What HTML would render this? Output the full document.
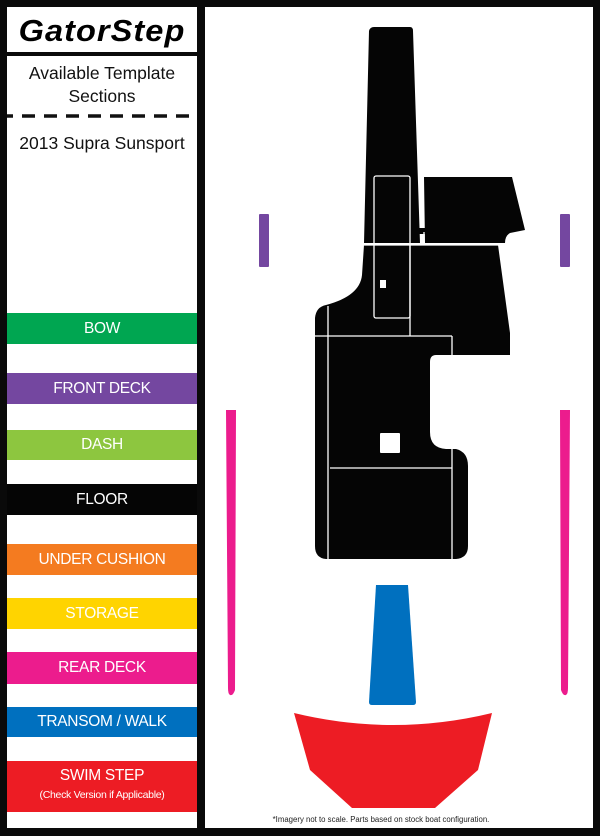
<!DOCTYPE html>
<html><head><style>
*{margin:0;padding:0}
body{width:600px;height:836px;background:#0a0a0a;position:relative;overflow:hidden;font-family:"Liberation Sans",sans-serif}
.p{position:absolute;background:#fff}
.band{position:absolute;left:7px;width:190px;color:#fff;text-align:center;font-size:15.5px;letter-spacing:-0.3px}
.t{position:absolute;left:7px;width:190px;text-align:center;color:#1a1a1a}
</style></head><body>
<div class="p" style="left:7px;top:7px;width:190px;height:45px"></div>
<div class="p" style="left:7px;top:56px;width:190px;height:772px"></div>
<div class="p" style="left:205px;top:7px;width:388px;height:821px"></div>
<div class="t" style="top:13px;font-size:31px;font-weight:bold;font-style:italic;letter-spacing:1px;color:#000;transform:scaleX(1.05)">GatorStep</div>
<div class="t" style="top:62px;font-size:17.5px;line-height:23px;color:#111">Available Template<br>Sections</div>
<svg style="position:absolute;left:7px;top:114px" width="190" height="5"><line x1="0" y1="2" x2="190" y2="2" stroke="#111" stroke-width="3.5" stroke-dasharray="6,9,13,9,13,9,13,9,13,9,13,9,13,9,13,9,13,9"/></svg>
<div class="t" style="top:133px;font-size:17.5px;color:#111">2013 Supra Sunsport</div>

<div class="band" style="top:313px;height:31px;line-height:31px;background:#00a651">BOW</div>
<div class="band" style="top:373px;height:31px;line-height:31px;background:#7447a0">FRONT DECK</div>
<div class="band" style="top:430px;height:30px;line-height:30px;background:#8dc63f">DASH</div>
<div class="band" style="top:484px;height:31px;line-height:31px;background:#050505">FLOOR</div>
<div class="band" style="top:544px;height:31px;line-height:31px;background:#f47b20">UNDER CUSHION</div>
<div class="band" style="top:598px;height:31px;line-height:31px;background:#ffd400">STORAGE</div>
<div class="band" style="top:652px;height:32px;line-height:32px;background:#ec1c8d">REAR DECK</div>
<div class="band" style="top:707px;height:30px;line-height:30px;background:#0070bf">TRANSOM / WALK</div>
<div class="band" style="top:761px;height:51px;background:#ed1c24"><div style="margin-top:6px;font-size:15.5px">SWIM STEP</div><div style="font-size:10.5px;margin-top:4px">(Check Version if Applicable)</div></div>

<svg style="position:absolute;left:0;top:0" width="600" height="836">
<path d="M374 27 H410 Q413 27 413 31 L420 243 H364 L369 31 Q370 27 374 27Z" fill="#050505"/>
<path d="M424 177 H512 L525 230 L510 233 Q505 236 505 243 H425 Z" fill="#050505"/>
<path d="M419 228 H432 V234 H419Z" fill="#050505"/>
<path d="M364 245 H498 L510 333 V355 H436 Q430 355 430 362 V432 Q430 448 446 449 H456 Q468 452 468 466 V546 Q468 558 456 559 H326 Q315 558 315 546 V318 Q316 307 326 305 Q360 296 362 275 Z" fill="#050505"/>
<g stroke="#fff" stroke-width="1.3" fill="none">
<line x1="364" y1="245" x2="500" y2="245"/>
<rect x="374" y="176" width="36" height="142" rx="2"/>
<line x1="410" y1="245" x2="410" y2="336"/>
<line x1="424" y1="232" x2="424" y2="245"/>
<line x1="315" y1="336" x2="452" y2="336"/>
<line x1="328" y1="306" x2="328" y2="560"/>
<line x1="452" y1="336" x2="452" y2="355"/>
<line x1="452" y1="449" x2="452" y2="560"/>
<line x1="330" y1="468" x2="452" y2="468"/>
</g>
<rect x="380" y="280" width="6" height="8" fill="#fff"/>
<rect x="380" y="433" width="20" height="20" rx="1" fill="#fff"/>
<rect x="259" y="214" width="10" height="53" rx="1" fill="#7447a0"/>
<rect x="560" y="214" width="10" height="53" rx="1" fill="#7447a0"/>
<path d="M226 410 H236 L235 690 Q233 696 230 695 Q228 694 228 688 Z" fill="#ec1c8d"/>
<path d="M560 410 H570 L568 688 Q568 694 566 695 Q563 696 561 690 Z" fill="#ec1c8d"/>
<path d="M376 585 H408 L416 702 Q416 705 413 705 H372 Q369 705 369 702 Z" fill="#0070bf"/>
<path d="M294 713 Q393 737 492 713 L478 770 L435 808 H352 L310 770 Z" fill="#ed1c24"/>
<text x="381" y="822" font-size="7.8" text-anchor="middle" fill="#222" font-family="Liberation Sans, sans-serif">*Imagery not to scale. Parts based on stock boat configuration.</text>
</svg>
</body></html>
